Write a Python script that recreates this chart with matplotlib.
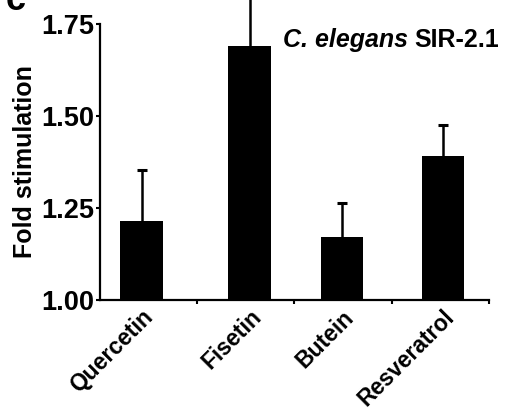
import matplotlib
matplotlib.use("Agg")
import matplotlib.pyplot as plt
import matplotlib.transforms as mtransforms
import numpy as np

plt.rcParams['font.family'] = ['Liberation Sans', 'DejaVu Sans']
plt.rcParams['font.weight'] = 'bold'

compounds = ["Quercetin", "Fisetin", "Butein", "Resveratrol"]
fold_stimulation = [1.215, 1.69, 1.171, 1.391]
error_up = [0.138, 0.16, 0.093, 0.085]
y_ticks = [1.00, 1.25, 1.50, 1.75]
y_tick_labels = ["1.00", "1.25", "1.50", "1.75"]

# bar centres along the category axis (each category spans one unit)
bar_positions = [0.43, 1.54, 2.49, 3.53]

fig = plt.figure(figsize=(5.07, 4.15), dpi=100)
ax = fig.add_axes([0.197, 0.277, 0.767, 0.665])

ax.bar(bar_positions, fold_stimulation, width=0.44, color='black', zorder=2)

# upper-only error bars with a cap at the top
tops = np.array(fold_stimulation) + np.array(error_up)
ax.vlines(bar_positions, fold_stimulation, tops, color='black', linewidth=1.8,
          clip_on=False, zorder=3)
ax.plot(bar_positions, tops, linestyle='none', marker='_', markersize=7,
        markeredgewidth=2.2, color='black', clip_on=False, zorder=3)

ax.set_xlim(0, 4)
ax.set_ylim(1.0, 1.75)
ax.set_yticks(y_ticks)
ax.set_yticklabels(y_tick_labels, fontsize=19.5, fontweight='bold')
ax.set_xticks([1, 2, 3, 4])
ax.set_xticklabels([])
ax.set_xticks(bar_positions, minor=True)
ax.set_xticklabels(compounds, minor=True, rotation=45, ha='right',
                   rotation_mode='anchor', fontsize=16.5, fontweight='bold')
shift = mtransforms.ScaledTranslation(10 / 100, 0, fig.dpi_scale_trans)
for lbl in ax.get_xticklabels(minor=True):
    lbl.set_transform(lbl.get_transform() + shift)
ax.tick_params(axis='x', which='minor', length=0, pad=4)
ax.tick_params(axis='x', which='major', length=3, width=1.5, direction='out')
ax.tick_params(axis='y', length=3, width=1.5, direction='out', pad=1)

for side in ('top', 'right'):
    ax.spines[side].set_visible(False)
for side in ('left', 'bottom'):
    ax.spines[side].set_linewidth(1.6)

ax.set_ylabel("Fold stimulation", fontsize=18, fontweight='bold', labelpad=3)

t1 = ax.text(0.47, 0.942, "C. elegans ", transform=ax.transAxes, fontsize=18,
             fontweight='bold', style='italic', ha='left', va='center')
fig.canvas.draw()
ext = t1.get_window_extent()
x_next = ax.transAxes.inverted().transform((ext.x1, ext.y0))[0]
ax.text(x_next, 0.942, "SIR-2.1", transform=ax.transAxes, fontsize=18,
        fontweight='bold', ha='left', va='center')

fig.text(0.012, 1.0, "c", fontsize=26, fontweight='bold', ha='left', va='center')

fig.savefig("out.png", dpi=100)
